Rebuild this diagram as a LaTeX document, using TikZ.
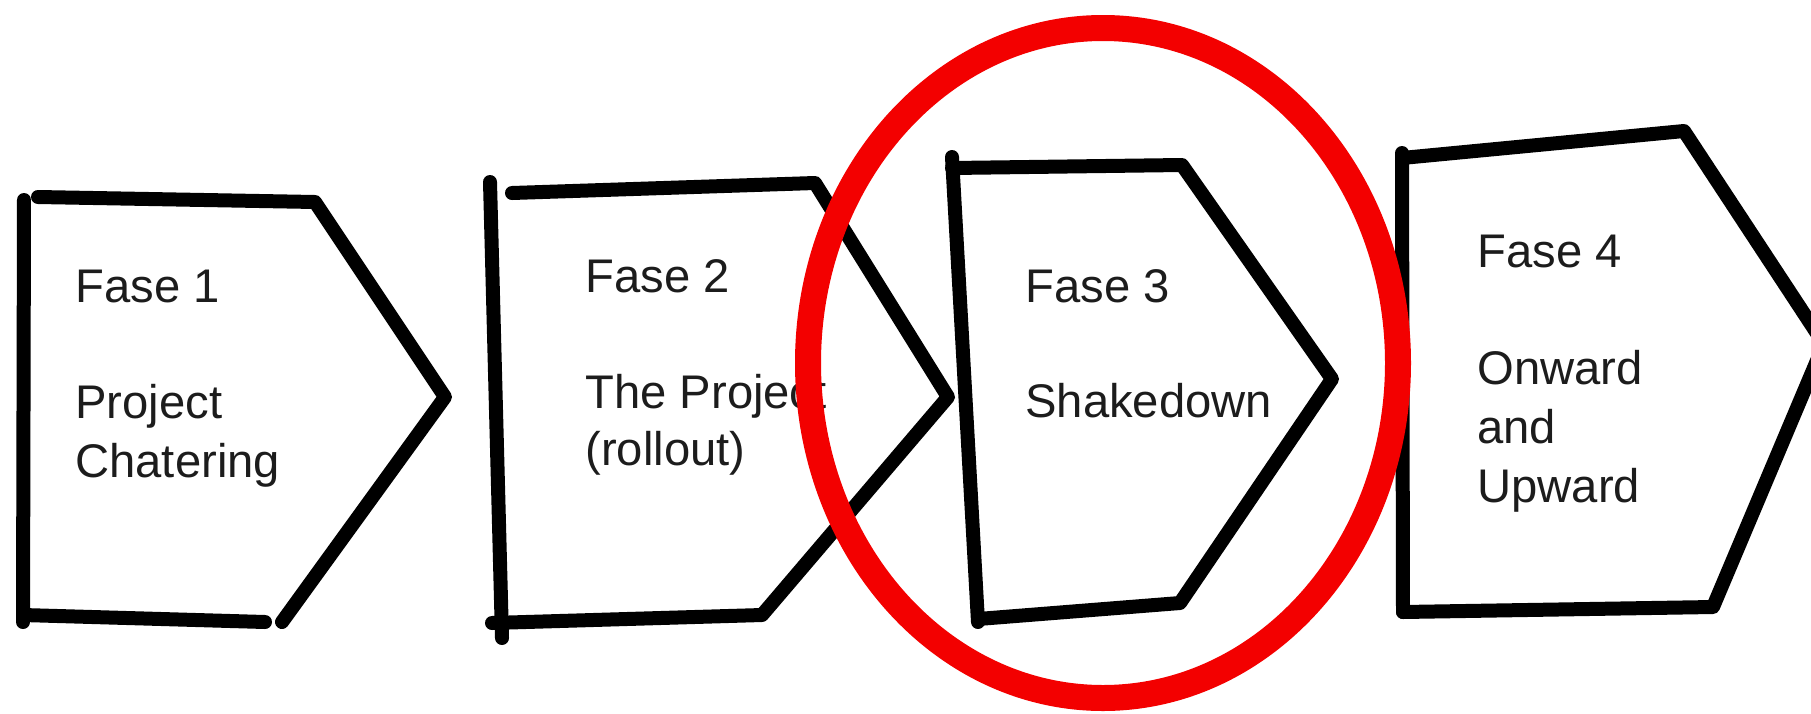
\documentclass[tikz,border=0pt]{standalone}
\usepackage{fontspec}
\setmainfont{Liberation Sans}
\definecolor{ringred}{RGB}{243,0,0}
\definecolor{inktext}{RGB}{28,28,28}
\begin{document}
\begin{tikzpicture}[x=0.5pt,y=-0.5pt,
  outline/.style={line width=7pt, line cap=round, line join=round, draw=black},
  lbl/.style={anchor=base west, inner sep=0pt, text=inktext,
              font=\fontsize{23.6}{28}\selectfont},
  ring/.style={line width=13pt, draw=ringred}]
\path[use as bounding box] (0,0) rectangle (1811,713);
\clip (0,0) rectangle (1811,713);

% phase 1
\draw[outline] (24,200) -- (23,622);
\draw[outline] (38,197) -- (315,202) -- (445,397) -- (282,622);
\draw[outline] (23,615) -- (265,622);

% phase 2
\draw[outline] (490,182) -- (502,638);
\draw[outline] (512,193) -- (815,183) -- (948,397) -- (762,615) -- (492,623);

% phase 3
\draw[outline] (952,157) -- (978,622);
\draw[outline] (952,168) -- (1182,165) -- (1332,379) -- (1180,603) -- (978,619);

% phase 4 (its point runs past the right edge)
\draw[outline] (1402,153) -- (1403,612);
\draw[outline] (1402,158) -- (1684,131) -- (1824,344) -- (1713,607) -- (1403,612);

% labels
\node[lbl] (f1)  at (75,302)   {Fase 1};
\node[lbl] (d1a) at (75,418)   {Project};
\node[lbl] (d1b) at (75,477)   {Chatering};
\node[lbl] (f2)  at (585,292)  {Fase 2};
\node[lbl] (d2a) at (585,408)  {The Project};
\node[lbl] (d2b) at (585,465)  {(rollout)};
\node[lbl] (f3)  at (1025,302) {Fase 3};
\node[lbl] (d3)  at (1025,417) {Shakedown};
\node[lbl] (f4)  at (1477,267) {Fase 4};
\node[lbl] (d4a) at (1477,384) {Onward};
\node[lbl] (d4b) at (1477,443) {and};
\node[lbl] (d4c) at (1477,502) {Upward};

% highlight ring around phase 3
\draw[ring] (1103,363) ellipse [x radius=147.5pt, y radius=167.5pt];
\end{tikzpicture}
\end{document}
